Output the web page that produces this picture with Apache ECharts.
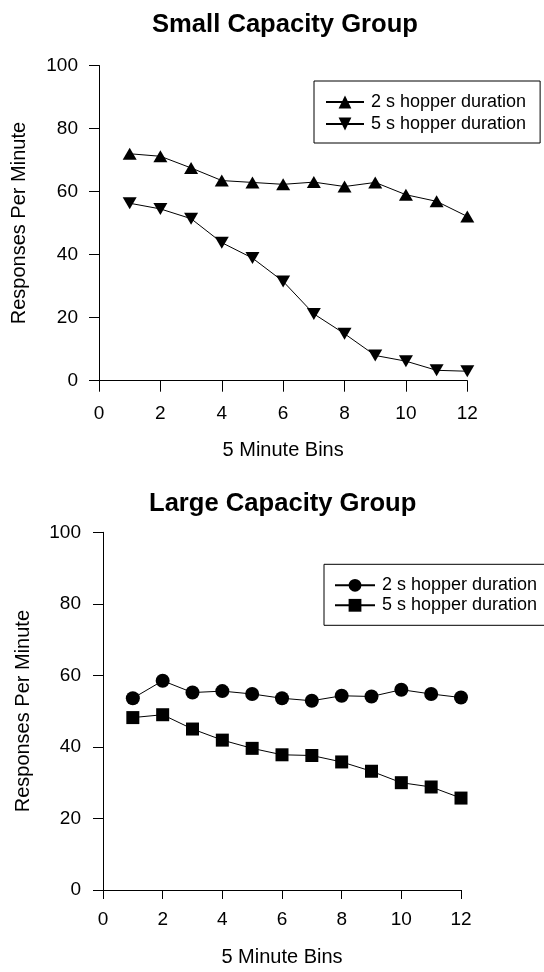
<!DOCTYPE html>
<html>
<head>
<meta charset="utf-8">
<title>Responses Per Minute by 5 Minute Bins</title>
<script src="https://cdn.jsdelivr.net/npm/echarts@6/dist/echarts.min.js"></script>
<style>
  html, body { margin: 0; padding: 0; background: #fff; }
  #small, #large { position: absolute; left: 0; width: 544px; height: 486px; }
  #small { top: 0; }
  #large { top: 486px; }
</style>
</head>
<body>
<div id="small"></div>
<div id="large"></div>
<script>
// 5 minute bins along the session
var bins = [1, 2, 3, 4, 5, 6, 7, 8, 9, 10, 11, 12];

// Small capacity group: responses per minute
var small2s = [72.0, 71.2, 67.5, 63.5, 62.9, 62.3, 63.0, 61.6, 62.9, 59.0, 56.9, 52.1];
var small5s = [56.3, 54.5, 51.4, 43.8, 38.9, 31.5, 21.2, 14.9, 8.0, 6.2, 3.3, 3.0];

// Large capacity group: responses per minute
var large2s = [53.6, 58.5, 55.2, 55.6, 54.8, 53.6, 52.9, 54.3, 54.1, 56.0, 54.8, 53.8];
var large5s = [48.2, 49.0, 45.0, 41.9, 39.6, 37.8, 37.6, 35.8, 33.2, 30.0, 28.8, 25.7];

var seriesNames = ['2 s hopper duration', '5 s hopper duration'];
var titles = ['Small Capacity Group', 'Large Capacity Group'];
var xName = '5 Minute Bins';
var yName = 'Responses Per Minute';

var FONT = '"Liberation Sans", Arial, Helvetica, sans-serif';
var INK = '#000';
var DOWN_TRIANGLE = 'path://M0,0L2,0L1,2Z';

function pairs(values) {
  return bins.map(function (b, i) { return [b, values[i]]; });
}

function lineSeries(name, values, symbol, size) {
  return {
    name: name,
    type: 'line',
    data: pairs(values),
    symbol: symbol,
    symbolSize: size,
    showAllSymbol: true,
    itemStyle: { color: INK },
    lineStyle: { color: INK, width: 1 },
    emphasis: { disabled: true },
    animation: false
  };
}

function buildOption(cfg) {
  return {
    backgroundColor: '#fff',
    textStyle: { fontFamily: FONT },
    title: {
      text: cfg.title,
      left: cfg.titleLeft,
      top: cfg.titleTop,
      padding: 0,
      textStyle: { fontFamily: FONT, fontSize: 25.6, fontWeight: 'bold', color: INK }
    },
    legend: {
      data: seriesNames,
      orient: 'vertical',
      left: cfg.legend.left,
      top: cfg.legend.top,
      itemWidth: cfg.legend.itemWidth,
      itemHeight: 16,
      itemGap: cfg.legend.itemGap,
      padding: cfg.legend.padding,
      borderColor: INK,
      borderWidth: 1,
      borderRadius: 0,
      selectedMode: false,
      textStyle: { fontFamily: FONT, fontSize: 18, color: INK, padding: [0, 0, 0, 2] }
    },
    grid: cfg.grid,
    xAxis: {
      type: 'value',
      min: 0,
      max: 12,
      interval: 2,
      name: xName,
      nameLocation: 'middle',
      nameGap: cfg.xNameGap,
      nameTextStyle: { fontFamily: FONT, fontSize: 20, color: INK },
      axisLine: { show: true, onZero: false, lineStyle: { color: INK, width: 1 } },
      axisTick: { show: true, inside: false, length: cfg.xTickLen, lineStyle: { color: INK, width: 1 } },
      axisLabel: { fontFamily: FONT, fontSize: 19, color: INK, margin: cfg.xLabelMargin },
      splitLine: { show: false }
    },
    yAxis: {
      type: 'value',
      min: 0,
      max: 100,
      interval: 20,
      name: yName,
      nameLocation: 'middle',
      nameGap: 69.5,
      nameTextStyle: { fontFamily: FONT, fontSize: 20, color: INK },
      axisLine: { show: true, onZero: false, lineStyle: { color: INK, width: 1 } },
      axisTick: { show: true, inside: false, length: 10, lineStyle: { color: INK, width: 1 } },
      axisLabel: { fontFamily: FONT, fontSize: 19, color: INK, margin: cfg.yLabelMargin },
      splitLine: { show: false }
    },
    series: cfg.series
  };
}

var smallChart = echarts.init(document.getElementById('small'), null, { renderer: 'canvas' });
smallChart.setOption(buildOption({
  title: titles[0],
  titleLeft: 152,
  titleTop: 12.2,
  legend: { left: 314, top: 81, itemWidth: 38, itemGap: 4, padding: [12, 14, 10, 11] },
  grid: { left: 99, top: 65.5, width: 368.3, height: 315.2 },
  xNameGap: 60,
  xTickLen: 11,
  xLabelMargin: 24,
  yLabelMargin: 21,
  series: [
    lineSeries(seriesNames[0], small2s, 'triangle', [14, 12]),
    lineSeries(seriesNames[1], small5s, DOWN_TRIANGLE, [14, 12])
  ]
}));

var largeChart = echarts.init(document.getElementById('large'), null, { renderer: 'canvas' });
largeChart.setOption(buildOption({
  title: titles[1],
  titleLeft: 149,
  titleTop: 4.7,
  legend: { left: 324, top: 78.3, itemWidth: 40, itemGap: 2, padding: [12, 14, 11, 10] },
  grid: { left: 103, top: 46.3, width: 358, height: 363 },
  xNameGap: 57,
  xTickLen: 9,
  xLabelMargin: 20,
  yLabelMargin: 22,
  series: [
    lineSeries(seriesNames[0], large2s, 'circle', 14),
    lineSeries(seriesNames[1], large5s, 'rect', 13)
  ]
}));
</script>
</body>
</html>
